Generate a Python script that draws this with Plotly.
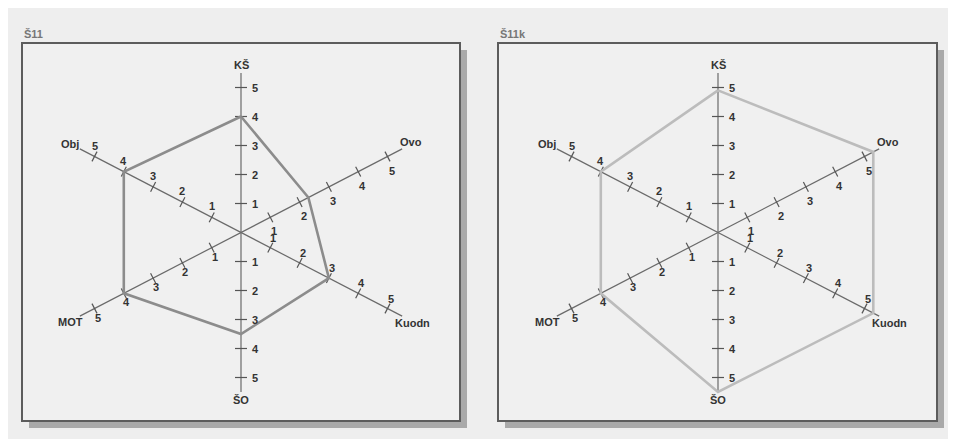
import plotly.graph_objects as go

# spokes of the profile chart, clockwise from the top
spokes = ["KŠ", "Ovo", "Kuodn", "ŠO", "MOT", "Obj"]
tick_values = [1, 2, 3, 4, 5]
tick_labels = ["1", "2", "3", "4", "5"]

panel_titles = ["Š11", "Š11k"]
s11 = [4.0, 2.3, 3.0, 3.5, 4.0, 4.0]
s11k = [4.9, 5.3, 5.3, 5.5, 4.0, 4.0]

# ---- geometry (1 axis unit = 1 pixel, centre of the spokes at 0,0) ----
# the page body keeps its default 8px margin, so the figure is drawn 8px smaller
PAGE_OFF = 8
W, H = 956 - PAGE_OFF, 439 - PAGE_OFF
CY = 232.5 - PAGE_OFF
SPLIT = 478 - PAGE_OFF
UNIT = {  # pixel step per value unit along each spoke
    "KŠ": (0.0, 29.0),
    "Ovo": (29.3, 15.2),
    "Kuodn": (29.3, -15.2),
    "ŠO": (0.0, -29.0),
    "MOT": (-29.3, -15.2),
    "Obj": (-29.3, 15.2),
}
LABEL_OFF = {  # tick label offset from the tick
    "KŠ": (14, 0), "ŠO": (14, 0),
    "Ovo": (4, -14), "Kuodn": (3, 10),
    "Obj": (0, 11), "MOT": (3, -9),
}
NAME_OFF = {
    "KŠ": (0, 8), "ŠO": (0, -8),
    "Ovo": (9, 7), "Kuodn": (10, -7),
    "Obj": (-10, 5), "MOT": (-9, -6),
}
AXIS_END = 5.5
BG = "#eeeeee"
INK = "#333333"
FONT = "Liberation Sans"

panels = [
    dict(values=s11, color="#8c8c8c", cx=241 - PAGE_OFF, box=(22, 460), xa="x", ya="y"),
    dict(values=s11k, color="#bcbcbc", cx=718 - PAGE_OFF, box=(498, 937), xa="x2", ya="y2"),
]

fig = go.Figure()
annotations = []
shapes = []


def pos(spoke, v):
    ux, uy = UNIT[spoke]
    return ux * v, uy * v


for p, title in zip(panels, panel_titles):
    xa, ya = p["xa"], p["ya"]
    # frame with drop shadow
    bx0 = p["box"][0] - PAGE_OFF - p["cx"]
    bx1 = p["box"][1] - PAGE_OFF - p["cx"]
    by0, by1 = CY - (421 - PAGE_OFF), CY - (43 - PAGE_OFF)
    shapes.append(dict(type="rect", xref=xa, yref=ya, x0=bx0 + 7, x1=bx1 + 7, y0=by0 - 7, y1=by1 - 7,
                       fillcolor="#a9a9a9", line=dict(width=0), layer="below"))
    shapes.append(dict(type="rect", xref=xa, yref=ya, x0=bx0, x1=bx1, y0=by0, y1=by1,
                       fillcolor="#f0f0f0", line=dict(color="#5c5c5c", width=2), layer="below"))
    annotations.append(dict(x=bx0, y=by1 + 1, xref=xa, yref=ya, text=title, showarrow=False,
                            xanchor="left", yanchor="bottom",
                            font=dict(family=FONT, size=11, color="#777777", weight="bold")))

    # the three straight axes through the centre
    ax_x, ax_y = [], []
    for a, b in [("KŠ", "ŠO"), ("Ovo", "MOT"), ("Obj", "Kuodn")]:
        x0, y0 = pos(a, AXIS_END)
        x1, y1 = pos(b, AXIS_END)
        ax_x += [x0, x1, None]
        ax_y += [y0, y1, None]
    fig.add_trace(go.Scatter(x=ax_x, y=ax_y, mode="lines", xaxis=xa, yaxis=ya,
                             line=dict(color="#6a6a6a", width=1.2), hoverinfo="skip", showlegend=False))

    # tick marks and labels
    tk_x, tk_y = [], []
    for s in spokes:
        ux, uy = UNIT[s]
        n = (ux ** 2 + uy ** 2) ** 0.5
        if ux == 0:
            px_, py_ = 6.0, 0.0
        else:
            px_, py_ = -uy / n * 5.5, ux / n * 5.5
        for v, lab in zip(tick_values, tick_labels):
            x, y = pos(s, v)
            tk_x += [x - px_, x + px_, None]
            tk_y += [y - py_, y + py_, None]
            ox, oy = LABEL_OFF[s]
            annotations.append(dict(x=x + ox, y=y + oy, xref=xa, yref=ya, text=lab, showarrow=False,
                                    font=dict(family=FONT, size=11, color=INK, weight="bold")))
        ex, ey = pos(s, AXIS_END)
        ox, oy = NAME_OFF[s]
        annotations.append(dict(x=ex + ox, y=ey + oy, xref=xa, yref=ya, text=s, showarrow=False,
                                font=dict(family=FONT, size=11, color=INK, weight="bold")))
    fig.add_trace(go.Scatter(x=tk_x, y=tk_y, mode="lines", xaxis=xa, yaxis=ya,
                             line=dict(color="#555555", width=1.2), hoverinfo="skip", showlegend=False))

    # profile polygon
    vx, vy = [], []
    for s, v in zip(spokes + spokes[:1], p["values"] + p["values"][:1]):
        x, y = pos(s, v)
        vx.append(x)
        vy.append(y)
    fig.add_trace(go.Scatter(x=vx, y=vy, mode="lines", xaxis=xa, yaxis=ya, name=title,
                             line=dict(color=p["color"], width=2.6), showlegend=False))

lx, rx = panels[0]["cx"], panels[1]["cx"]
axis_common = dict(visible=False, showgrid=False, zeroline=False, fixedrange=True)
fig.update_layout(
    width=W, height=H,
    margin=dict(l=0, r=0, t=0, b=0),
    paper_bgcolor=BG, plot_bgcolor=BG,
    xaxis=dict(domain=[0, SPLIT / W], range=[-lx, SPLIT - lx], **axis_common),
    xaxis2=dict(domain=[SPLIT / W, 1], range=[-(rx - SPLIT), W - rx], **axis_common),
    yaxis=dict(domain=[0, 1], range=[-(H - CY), CY], **axis_common),
    yaxis2=dict(domain=[0, 1], range=[-(H - CY), CY], **axis_common),
    shapes=shapes,
    annotations=annotations,
    showlegend=False,
)

fig.write_html("out.html")
